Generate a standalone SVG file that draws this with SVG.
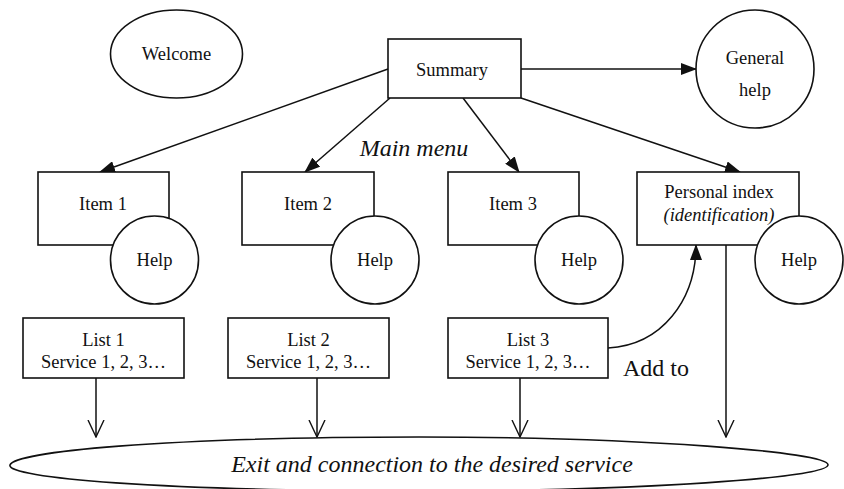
<svg xmlns="http://www.w3.org/2000/svg" width="844" height="489" viewBox="0 0 844 489">
<defs>
<marker id="fill" markerWidth="16" markerHeight="12" refX="15" refY="6" orient="auto" markerUnits="userSpaceOnUse">
<path d="M0,0 L16,6 L0,12 Z" fill="#111"/>
</marker>
<marker id="open" markerWidth="18" markerHeight="18" refX="17" refY="9" orient="auto" markerUnits="userSpaceOnUse">
<path d="M0,1 L17,9 L0,17" fill="none" stroke="#111" stroke-width="1.4"/>
</marker>
</defs>
<style>
.s{fill:#fff;stroke:#111;stroke-width:1.6}
.t{font-family:"Liberation Serif","Times New Roman",serif;font-size:18.5px;fill:#111;text-anchor:middle}
.i{font-style:italic}
.b{font-size:24px}
.c{fill:none;stroke:#111;stroke-width:1.5}
</style>
<rect width="844" height="489" fill="#fff"/>
<g id="connectors">
<line class="c" x1="521" y1="69" x2="696" y2="69" marker-end="url(#fill)"/>
<line class="c" x1="388" y1="69" x2="100" y2="172" marker-end="url(#fill)"/>
<line class="c" x1="390" y1="98" x2="305" y2="172" marker-end="url(#fill)"/>
<line class="c" x1="463" y1="98" x2="519" y2="172" marker-end="url(#fill)"/>
<line class="c" x1="521" y1="98" x2="740" y2="172" marker-end="url(#fill)"/>
<path class="c" d="M608,348 C662,345 696,300 696,245" marker-end="url(#fill)"/>
<line class="c" x1="96" y1="378" x2="96" y2="437" marker-end="url(#open)"/>
<line class="c" x1="317" y1="378" x2="317" y2="437" marker-end="url(#open)"/>
<line class="c" x1="520" y1="378" x2="520" y2="437" marker-end="url(#open)"/>
<line class="c" x1="726" y1="245" x2="726" y2="437" marker-end="url(#open)"/>
</g>
<g id="welcome"><ellipse class="s" cx="176.5" cy="54" rx="66" ry="44"/><text class="t" x="176.5" y="60">Welcome</text></g>
<g id="summary"><rect class="s" x="388" y="39" width="133" height="59"/><text class="t" x="452" y="76">Summary</text></g>
<g id="general-help"><circle class="s" cx="755" cy="69" r="59"/><text class="t" x="755" y="64">General</text><text class="t" x="755" y="96">help</text></g>
<text class="t i b" x="414" y="156">Main menu</text>
<g id="item1"><rect class="s" x="38" y="172" width="131" height="73"/><text class="t" x="103" y="210">Item 1</text></g>
<g id="help1"><circle class="s" cx="154.5" cy="260" r="44"/><text class="t" x="154.5" y="266">Help</text></g>
<g id="item2"><rect class="s" x="242" y="172" width="132" height="73"/><text class="t" x="308" y="210">Item 2</text></g>
<g id="help2"><circle class="s" cx="375" cy="260" r="44"/><text class="t" x="375" y="266">Help</text></g>
<g id="item3"><rect class="s" x="448" y="172" width="131" height="73"/><text class="t" x="513" y="210">Item 3</text></g>
<g id="help3"><circle class="s" cx="579" cy="260" r="44"/><text class="t" x="579" y="266">Help</text></g>
<g id="personal-index"><rect class="s" x="637" y="172" width="162" height="73"/><text class="t" x="719" y="198">Personal index</text><text class="t i" x="719" y="221">(identification)</text></g>
<g id="help4"><circle class="s" cx="799" cy="260" r="44"/><text class="t" x="799" y="266">Help</text></g>
<g id="list1"><rect class="s" x="23" y="318" width="161" height="60"/><text class="t" x="103.5" y="346">List 1</text><text class="t" x="103.5" y="368">Service 1, 2, 3…</text></g>
<g id="list2"><rect class="s" x="228" y="318" width="161" height="60"/><text class="t" x="308.5" y="346">List 2</text><text class="t" x="308.5" y="368">Service 1, 2, 3…</text></g>
<g id="list3"><rect class="s" x="448" y="318" width="160" height="60"/><text class="t" x="528" y="346">List 3</text><text class="t" x="528" y="368">Service 1, 2, 3…</text></g>
<text class="t b" x="656" y="376">Add to</text>
<g id="exit"><path class="s" d="M10,465 C14,452 160,437 419,437 C640,437 830,452 828,465 C826,478 640,491 419,491 C160,491 6,478 10,465 Z"/><text class="t i b" x="432" y="472">Exit and connection to the desired service</text></g>
</svg>
